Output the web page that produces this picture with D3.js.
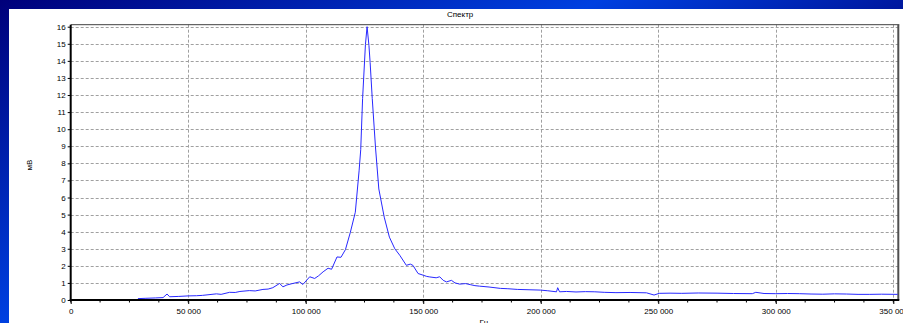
<!DOCTYPE html>
<html>
<head>
<meta charset="utf-8">
<script src="https://cdn.jsdelivr.net/npm/d3@7"></script>
<style>
  html, body { margin: 0; padding: 0; }
  body { width: 903px; height: 323px; overflow: hidden; }
  text { font-family: 'Liberation Sans', Arial, sans-serif; font-size: 8px; fill: #000; }
</style>
</head>
<body>
<svg id="chart" width="903" height="323"></svg>
<script>
// spectrum readings: frequency (Hz) and amplitude (mV)
const freq_hz = [
  28600, 32000, 36000, 39300, 41000, 42100, 46000, 50000, 53500, 56000,
  58000, 62000, 64000, 67600, 70000, 72000, 76000, 78500, 81800, 84000,
  86000, 88900, 90300, 92000, 94000, 97400, 98800, 101700, 103800, 105500,
  107400, 109500, 111000, 113300, 115000, 116900, 119000, 121100, 122700, 123400,
  124200, 125400, 126100, 126900, 127400, 128300, 129700, 131100, 133400, 135600,
  137900, 140000, 142800, 144500, 145600, 147800, 150000, 151500, 152800, 155500,
  157000, 158500, 159900, 162000, 163500, 165500, 168000, 170000, 172000, 174000,
  178000, 182800, 186000, 190000, 195000, 199800, 203000, 206700, 207200, 208000,
  211000, 215000, 219000, 223000, 227000, 232000, 238000, 245000, 248200, 250400,
  255000, 260000, 267000, 275000, 282000, 290000, 291500, 295000, 300000, 305000,
  310000, 315000, 320000, 325000, 330000, 335000, 340000, 345000, 351900
];
const amp_mv = [
  0.08, 0.10, 0.12, 0.14, 0.35, 0.19, 0.21, 0.24, 0.25, 0.27,
  0.30, 0.36, 0.33, 0.45, 0.44, 0.50, 0.55, 0.53, 0.62, 0.64,
  0.72, 0.97, 0.77, 0.88, 0.95, 1.06, 0.91, 1.36, 1.26, 1.42,
  1.65, 1.86, 1.80, 2.52, 2.50, 2.95, 3.97, 5.14, 7.56, 8.80,
  11.8, 14.95, 16.0, 14.9, 13.9, 11.8, 8.9, 6.5, 4.85, 3.68,
  3.00, 2.62, 2.03, 2.10, 2.03, 1.55, 1.45, 1.38, 1.35, 1.30,
  1.36, 1.15, 1.06, 1.15, 1.00, 0.93, 0.96, 0.90, 0.84, 0.81,
  0.76, 0.68, 0.66, 0.62, 0.60, 0.58, 0.54, 0.48, 0.72, 0.48,
  0.50, 0.47, 0.49, 0.48, 0.45, 0.43, 0.44, 0.42, 0.29, 0.39,
  0.40, 0.39, 0.41, 0.40, 0.38, 0.37, 0.45, 0.38, 0.37, 0.38,
  0.37, 0.35, 0.34, 0.36, 0.35, 0.33, 0.33, 0.34, 0.33
];
const x_ticks = [0, 50000, 100000, 150000, 200000, 250000, 300000, 350000];
const y_ticks = [0, 1, 2, 3, 4, 5, 6, 7, 8, 9, 10, 11, 12, 13, 14, 15, 16];
const title_text = 'Спектр';
const x_label = 'Гц';
const y_label = 'мВ';

const svg = d3.select('#chart');
const width = 903;
const height = 323;
const plot_left = 70.7;
const plot_right = 898.3;
const plot_top = 24.7;
const plot_bottom = 300;

// blue frame
const defs = svg.append('defs');
const grad = defs.append('linearGradient')
  .attr('id', 'frame')
  .attr('gradientUnits', 'userSpaceOnUse')
  .attr('x1', 0).attr('y1', 0)
  .attr('x2', 269).attr('y2', 500);
grad.append('stop').attr('offset', 0).attr('stop-color', '#00007a');
grad.append('stop').attr('offset', 0.5).attr('stop-color', '#0040e0');
grad.append('stop').attr('offset', 0.78).attr('stop-color', '#00159a');
grad.append('stop').attr('offset', 1).attr('stop-color', '#000080');
svg.append('rect').attr('width', width).attr('height', height).attr('fill', 'url(#frame)');
svg.append('rect').attr('x', 9).attr('y', 9).attr('width', width - 9).attr('height', height - 9).attr('fill', '#fff');

const x_scale = d3.scaleLinear()
  .domain([0, 350000])
  .range([plot_left, 893.3]);
const y_scale = d3.scaleLinear()
  .domain([0, 16])
  .range([plot_bottom, 26.7]);

// grid
const grid = svg.append('g').attr('stroke', '#a0a0a0').attr('stroke-dasharray', '3,2').attr('stroke-width', 1);
grid.selectAll('.gx')
  .data(x_ticks.slice(1))
  .enter().append('line')
  .attr('x1', d => Math.round(x_scale(d)) + 0.5)
  .attr('x2', d => Math.round(x_scale(d)) + 0.5)
  .attr('y1', plot_top)
  .attr('y2', plot_bottom);
grid.selectAll('.gy')
  .data(y_ticks.slice(1))
  .enter().append('line')
  .attr('x1', plot_left)
  .attr('x2', plot_right)
  .attr('y1', d => Math.round(y_scale(d)) + 0.5)
  .attr('y2', d => Math.round(y_scale(d)) + 0.5);

// top and right borders
svg.append('line').attr('x1', plot_left).attr('x2', plot_right + 1)
  .attr('y1', plot_top).attr('y2', plot_top).attr('stroke', '#404040').attr('stroke-width', 1);
svg.append('line').attr('x1', plot_right).attr('x2', plot_right)
  .attr('y1', plot_top).attr('y2', plot_bottom).attr('stroke', '#505050').attr('stroke-width', 2);

// spectrum line
const points = freq_hz.map((f, i) => ({ f: f, v: amp_mv[i] }));
const line = d3.line()
  .x(function(d) { return x_scale(d.f); })
  .y(function(d) { return y_scale(d.v); });
svg.append('path')
  .datum(points)
  .attr('fill', 'none')
  .attr('stroke', '#2828ff')
  .attr('stroke-width', 1)
  .attr('d', line);

// axes
const x_axis = d3.axisBottom(x_scale)
  .tickValues(x_ticks)
  .tickSize(4)
  .tickPadding(4)
  .tickFormat(d => d3.format(',')(d).replace(/,/g, ' '));
const gx = svg.append('g')
  .attr('transform', 'translate(0,' + plot_bottom + ')')
  .call(x_axis);
gx.select('.domain').remove();
gx.selectAll('text').style('font-size', '8px').attr('fill', '#000');

// minor x ticks
svg.append('g').selectAll('line')
  .data(d3.range(0, 350001, 12500))
  .enter().append('line')
  .attr('x1', d => x_scale(d)).attr('x2', d => x_scale(d))
  .attr('y1', plot_bottom).attr('y2', plot_bottom + 2.5)
  .attr('stroke', '#000');

const y_axis = d3.axisLeft(y_scale)
  .tickValues(y_ticks)
  .tickSize(3)
  .tickPadding(2);
const gy = svg.append('g')
  .attr('transform', 'translate(' + plot_left + ',0)')
  .call(y_axis);
gy.select('.domain').remove();
gy.selectAll('text').style('font-size', '8px').attr('fill', '#000');

svg.append('line').attr('x1', plot_left).attr('x2', plot_left)
  .attr('y1', plot_top).attr('y2', plot_bottom + 1).attr('stroke', '#000').attr('stroke-width', 2);
svg.append('line').attr('x1', plot_left - 1).attr('x2', plot_right + 1)
  .attr('y1', plot_bottom).attr('y2', plot_bottom).attr('stroke', '#000').attr('stroke-width', 2);

// labels
svg.append('text').attr('x', 447).attr('y', 17).text(title_text);
svg.append('text').attr('x', 484).attr('y', 325).attr('text-anchor', 'middle').text(x_label);
svg.append('text')
  .attr('transform', 'translate(32,165) rotate(-90)')
  .attr('text-anchor', 'middle')
  .text(y_label);
</script>
</body>
</html>
